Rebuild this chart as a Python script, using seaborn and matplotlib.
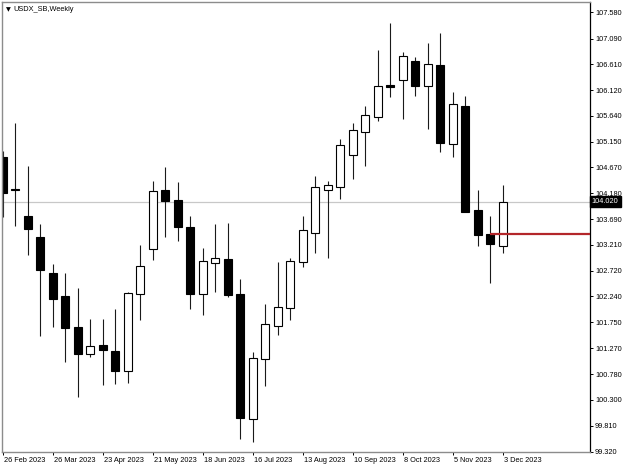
import numpy as np
import pandas as pd
import matplotlib
matplotlib.use("Agg")
import matplotlib.pyplot as plt
import matplotlib.transforms as mtransforms
import seaborn as sns

# ---------------- data ----------------
symbol_title = "USDX_SB,Weekly"
opens = [104.87, 104.25, 103.76, 103.36, 102.68, 102.25, 101.66, 101.15, 101.32, 101.21,
         100.84, 102.29, 103.14, 104.24, 104.05, 103.55, 102.28, 102.86, 102.95, 102.29,
         99.93, 101.07, 101.68, 102.02, 102.88, 103.43, 104.24, 104.30, 104.90, 105.34,
         105.61, 106.21, 106.31, 106.67, 106.20, 106.59, 105.10, 105.82, 103.86, 103.41,
         103.19]
highs = [104.98, 105.50, 104.70, 103.60, 102.85, 102.68, 102.39, 101.81, 101.81, 102.00,
         102.32, 103.21, 104.42, 104.67, 104.39, 103.75, 103.16, 103.60, 103.62, 102.57,
         101.20, 102.09, 102.88, 102.96, 103.75, 104.51, 104.41, 105.20, 105.50, 105.82,
         106.88, 107.38, 106.84, 106.74, 107.00, 107.19, 106.08, 106.00, 104.24, 103.76,
         104.33]
lows = [103.73, 103.57, 103.01, 101.50, 101.66, 101.01, 100.34, 101.10, 100.57, 100.59,
        100.61, 101.80, 102.93, 103.36, 103.28, 102.00, 101.89, 102.32, 102.23, 99.55,
        99.50, 100.56, 101.51, 101.80, 102.80, 103.06, 102.97, 104.07, 104.44, 104.70,
        105.54, 105.99, 105.57, 106.00, 105.39, 104.96, 104.87, 103.82, 103.19, 102.49,
        103.05]
closes = [104.18, 104.24, 103.50, 102.74, 102.20, 101.64, 101.16, 101.31, 101.24, 100.84,
          102.30, 102.82, 104.22, 104.04, 103.55, 102.29, 102.90, 102.96, 102.26, 99.95,
          101.08, 101.72, 102.04, 102.90, 103.49, 104.29, 104.33, 105.09, 105.37, 105.65,
          106.19, 106.17, 106.76, 106.20, 106.62, 105.12, 105.85, 103.83, 103.40, 103.22,
          104.02]
date_labels = ["26 Feb 2023", "26 Mar 2023", "23 Apr 2023", "21 May 2023", "18 Jun 2023",
               "16 Jul 2023", "13 Aug 2023", "10 Sep 2023", "8 Oct 2023", "5 Nov 2023",
               "3 Dec 2023"]
price_ticks = [107.580, 107.090, 106.610, 106.120, 105.640, 105.150, 104.670, 104.180,
               103.690, 103.210, 102.720, 102.240, 101.750, 101.270, 100.780, 100.300,
               99.810, 99.320]
current_price = 104.020
level_price = 103.41
level_start = 39

df = pd.DataFrame({"open": opens, "high": highs, "low": lows, "close": closes})
df["idx"] = np.arange(len(df))
df["up"] = df["close"] >= df["open"]

# ---------------- style ----------------
sns.set_theme(style="white")
plt.rcParams["font.family"] = ["Liberation Sans", "DejaVu Sans"]
FS = 5.3

fig = plt.figure(figsize=(6.25, 4.69), dpi=100)
fig.patch.set_facecolor("white")
ax = fig.add_axes([2 / 625, (469 - 451.7) / 469, (589.5 - 2) / 625, (451.7 - 2) / 469])
ax.set_facecolor("white")

# current price gray line
ax.axhline(current_price, color="#c8c8c8", lw=0.9, zorder=0)

# wicks
ax.vlines(df["idx"], df["low"], df["high"], color="#1a1a1a", lw=0.8, zorder=1)

# bodies
bw = 0.64
body_bottom = np.minimum(df["open"], df["close"])
body_h = np.maximum(np.abs(df["close"] - df["open"]), 0.012)
colors = np.where(df["up"], "white", "black")
ax.bar(df["idx"], body_h, bottom=body_bottom, width=bw, color=colors,
       edgecolor="black", linewidth=0.8, zorder=2)

# red level line
ax.hlines(level_price, level_start, 60, color="#b3262a", lw=1.6, zorder=3)

ax.set_xlim(-0.04, 46.94)
ax.set_ylim(99.32, 107.777)

# spines
for side in ["left", "top", "bottom"]:
    ax.spines[side].set_color("#8c8c8c")
    ax.spines[side].set_linewidth(1.0)
ax.spines["right"].set_color("black")
ax.spines["right"].set_linewidth(0.9)

# y axis on right
ax.yaxis.tick_right()
ax.set_yticks(price_ticks)
ax.set_yticklabels([f"{v:.3f}" for v in price_ticks], fontsize=FS, color="black")
ax.tick_params(axis="y", which="major", direction="out", length=2.5, width=0.7,
               color="black", pad=1.5, right=True, left=False)

# x axis ticks every 4 weeks
xt = list(range(0, len(df), 4))
ax.set_xticks(xt)
ax.set_xticklabels(date_labels, fontsize=FS, color="black", ha="left")
ax.tick_params(axis="x", which="major", direction="out", length=2.5, width=0.7,
               color="black", pad=1.5, bottom=True)
offset = mtransforms.ScaledTranslation(1 / 100, 0, fig.dpi_scale_trans)
for lab in ax.get_xticklabels():
    lab.set_transform(lab.get_transform() + offset)

ax.grid(False)

# current price tag
trans = mtransforms.blended_transform_factory(ax.transAxes, ax.transData)
ax.text(1.004, current_price, "104.020", transform=trans, fontsize=FS, color="white",
        ha="left", va="center", zorder=5,
        bbox=dict(boxstyle="square,pad=0.3", facecolor="black", edgecolor="black"),
        clip_on=False)

# title
ax.text(0.006, 0.988, "\u25BC", transform=ax.transAxes, fontsize=4.5, color="black",
        ha="left", va="top", family=["DejaVu Sans"])
ax.text(0.02, 0.992, symbol_title, transform=ax.transAxes, fontsize=FS, color="black",
        ha="left", va="top")

fig.savefig("out.png", dpi=100, facecolor="white")
